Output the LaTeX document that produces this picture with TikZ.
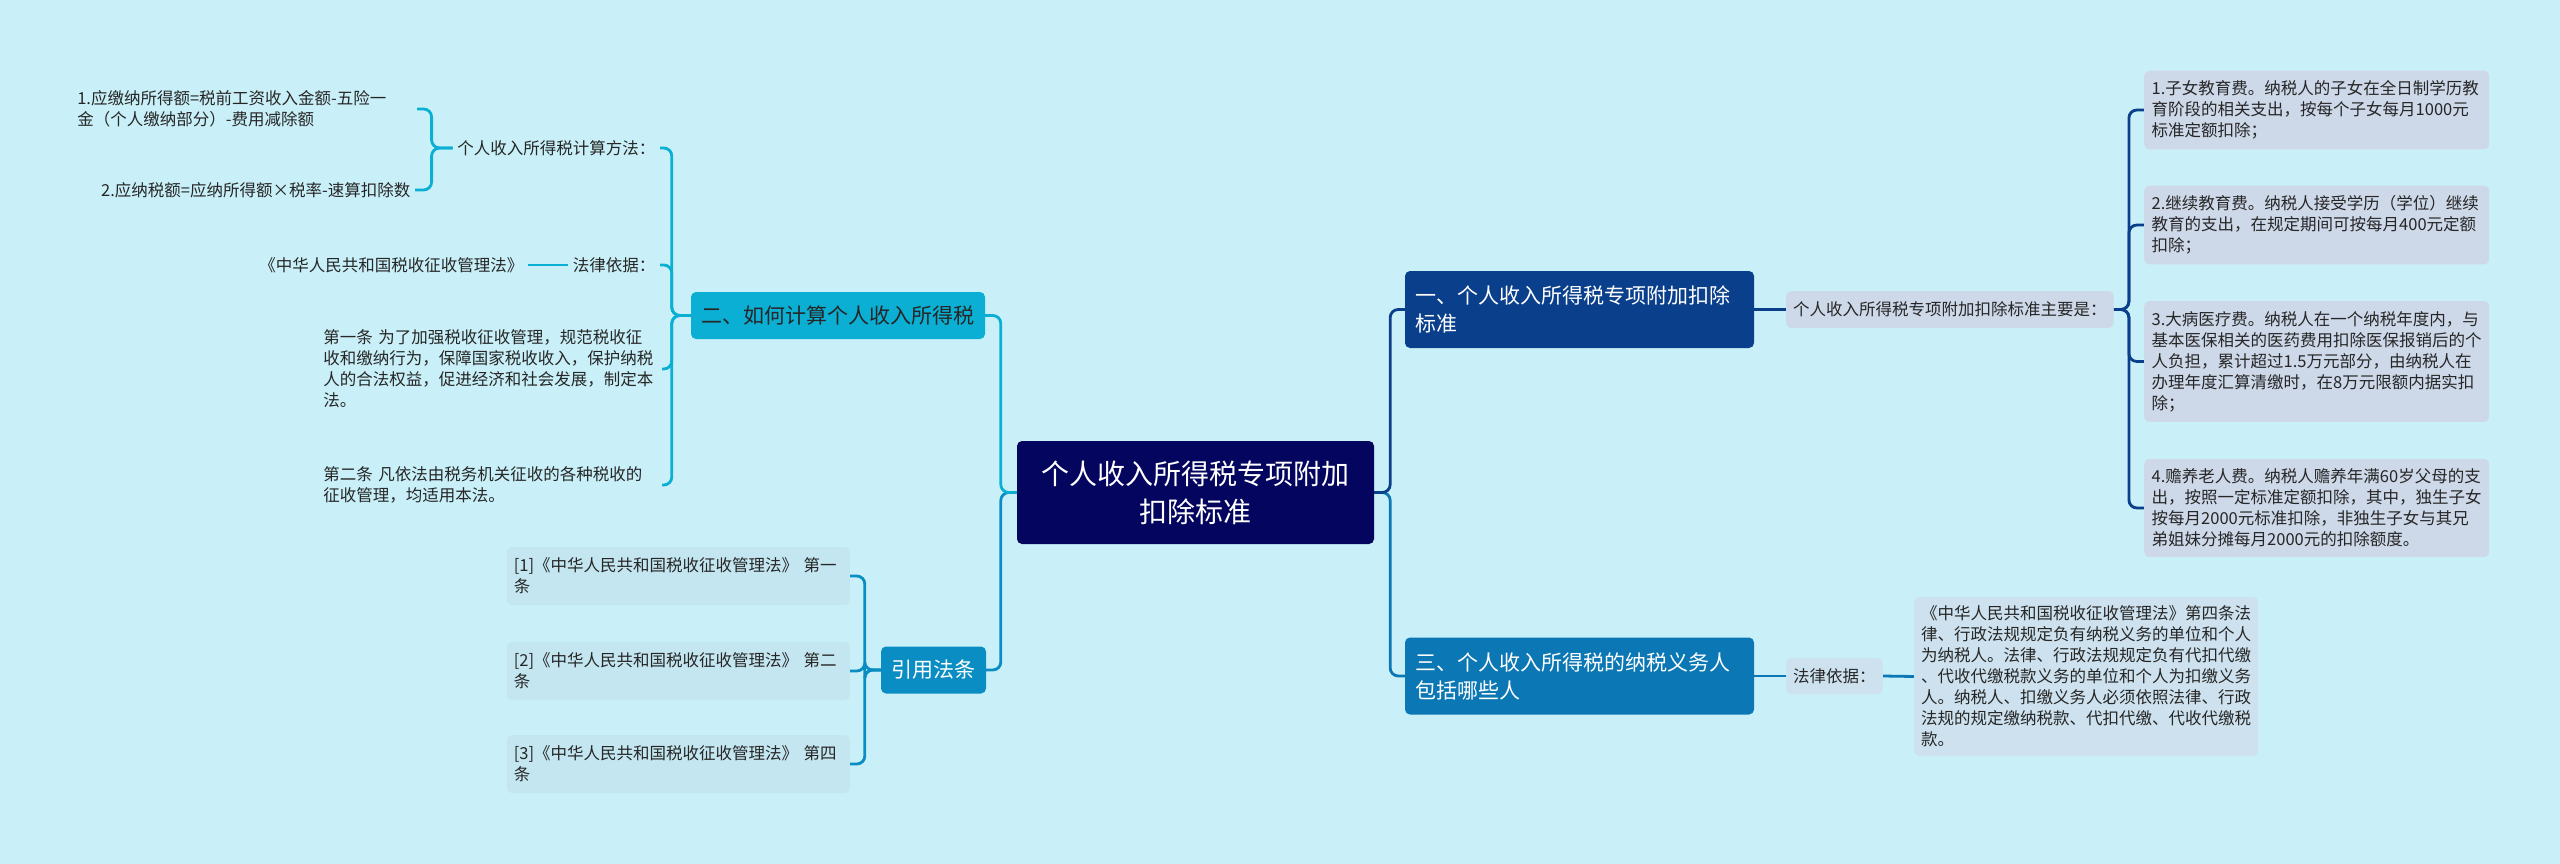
\documentclass[tikz,border=0pt]{standalone}
\usepackage{fontspec}
\setmainfont{Noto Sans CJK SC}
\pgfdeclarelayer{bglayer}
\pgfdeclarelayer{lines}
\pgfsetlayers{bglayer,lines,main}
\definecolor{bgc}{HTML}{C9F0F8}
\definecolor{navy}{HTML}{04055E}
\definecolor{dblue}{HTML}{0A3F8C}
\definecolor{mblue}{HTML}{0B78B5}
\definecolor{cyanb}{HTML}{0AAFD3}
\definecolor{rblue}{HTML}{0A8DC2}
\definecolor{leafg}{HTML}{CDD8E9}
\definecolor{leafb}{HTML}{CDE2EE}
\definecolor{leafc}{HTML}{C4E6F1}
\definecolor{txt}{HTML}{262626}
\begin{document}
\begin{tikzpicture}[x=1pt,y=-1pt,
  every node/.style={font=\fontsize{16.5}{21}\selectfont, text=txt, inner sep=0pt},
  centralbox/.style={fill=navy, rounded corners=5pt, text=white, font=\fontsize{28}{38}\selectfont, align=center, minimum width=357pt, minimum height=103pt},
  mainbox/.style={rounded corners=5pt, text=white, font=\fontsize{21}{28}\selectfont, align=left, text width=329pt, inner xsep=10pt, minimum height=77pt},
  subbox/.style={rounded corners=5pt, font=\fontsize{21}{28}\selectfont, inner xsep=10.5pt, minimum height=47pt},
  leafbox/.style={rounded corners=5pt, align=left, inner xsep=7.5pt, inner ysep=10pt},
  plain/.style={inner xsep=4.5pt, inner ysep=3pt, align=left},
  conn/.style={line width=2.8pt, rounded corners=8pt},
]
\begin{pgfonlayer}{bglayer}
\fill[bgc] (0,0) rectangle (2560,864);
\end{pgfonlayer}

% central and main branches
\node[centralbox] (c) at (1195.5,492.5) {个人收入所得税专项附加\\扣除标准};
\node[mainbox, fill=dblue] (n1) at (1579.5,309.5) {一、个人收入所得税专项附加扣除\\标准};
\node[mainbox, fill=mblue] (n3) at (1579.5,676) {三、个人收入所得税的纳税义务人\\包括哪些人};
\node[subbox, fill=cyanb] (n2) at (838,315.5) {二、如何计算个人收入所得税};
\node[subbox, fill=rblue, text=white] (n4) at (933.5,670) {引用法条};

% right side, branch one
\node[leafbox, fill=leafg, anchor=west, inner xsep=7pt, inner ysep=0pt, minimum height=37pt] (k) at (1786,309.5) {个人收入所得税专项附加扣除标准主要是：};
\node[leafbox, fill=leafg, anchor=west, text width=330pt] (r1) at (2144,110) {1.子女教育费。纳税人的子女在全日制学历教\\育阶段的相关支出，按每个子女每月1000元\\标准定额扣除；};
\node[leafbox, fill=leafg, anchor=west, text width=330pt] (r2) at (2144,225) {2.继续教育费。纳税人接受学历（学位）继续\\教育的支出，在规定期间可按每月400元定额\\扣除；};
\node[leafbox, fill=leafg, anchor=west, text width=330pt] (r3) at (2144,361.5) {3.大病医疗费。纳税人在一个纳税年度内，与\\基本医保相关的医药费用扣除医保报销后的个\\人负担，累计超过1.5万元部分，由纳税人在\\办理年度汇算清缴时，在8万元限额内据实扣\\除；};
\node[leafbox, fill=leafg, anchor=west, text width=330pt] (r4) at (2144,508) {4.赡养老人费。纳税人赡养年满60岁父母的支\\出，按照一定标准定额扣除，其中，独生子女\\按每月2000元标准扣除，非独生子女与其兄\\弟姐妹分摊每月2000元的扣除额度。};

% right side, branch three
\node[leafbox, fill=leafb, anchor=west, inner xsep=7pt, inner ysep=0pt, minimum height=36pt] (lb) at (1786,676) {法律依据：};
\node[leafbox, fill=leafb, anchor=west, text width=330pt, inner xsep=7pt, inner ysep=9pt] (lt) at (1914,676.5) {《中华人民共和国税收征收管理法》第四条法\\律、行政法规规定负有纳税义务的单位和个人\\为纳税人。法律、行政法规规定负有代扣代缴\\、代收代缴税款义务的单位和个人为扣缴义务\\人。纳税人、扣缴义务人必须依照法律、行政\\法规的规定缴纳税款、代扣代缴、代收代缴税\\款。};

% left side, branch two
\node[plain, anchor=east] (calc) at (660,148) {个人收入所得税计算方法：};
\node[plain, anchor=east, text width=335pt] (f1) at (417,109) {1.应缴纳所得额=税前工资收入金额-五险一\\金（个人缴纳部分）-费用减除额};
\node[plain, anchor=east] (f2) at (415,190) {2.应纳税额=应纳所得额×税率-速算扣除数};
\node[plain, anchor=east] (lbasis) at (660,265) {法律依据：};
\node[plain, anchor=east] (lawbook) at (528,265) {《中华人民共和国税收征收管理法》};
\node[plain, anchor=east, text width=334pt] (art1) at (662,369) {第一条 为了加强税收征收管理，规范税收征\\收和缴纳行为，保障国家税收收入，保护纳税\\人的合法权益，促进经济和社会发展，制定本\\法。};
\node[plain, anchor=east, text width=334pt] (art2) at (662,485) {第二条 凡依法由税务机关征收的各种税收的\\征收管理，均适用本法。};

% left side, references
\node[leafbox, fill=leafc, anchor=east, text width=329pt, inner xsep=7pt, inner ysep=0pt, minimum height=58pt] (ref1) at (850,576) {[1]《中华人民共和国税收征收管理法》 第一\\条};
\node[leafbox, fill=leafc, anchor=east, text width=329pt, inner xsep=7pt, inner ysep=0pt, minimum height=58pt] (ref2) at (850,671) {[2]《中华人民共和国税收征收管理法》 第二\\条};
\node[leafbox, fill=leafc, anchor=east, text width=329pt, inner xsep=7pt, inner ysep=0pt, minimum height=58pt] (ref3) at (850,764) {[3]《中华人民共和国税收征收管理法》 第四\\条};

\begin{pgfonlayer}{lines}
\draw[conn, rblue] (c.west) -- ++(-16,0) |- (n4.east);
\draw[conn, cyanb] (c.west) -- ++(-16,0) |- (n2.east);
\draw[conn, mblue] (c.east) -- ++(16,0) |- (n3.west);
\draw[conn, dblue] (c.east) -- ++(16,0) |- (n1.west);
\draw[conn, dblue] (n1.east) -- (k.west);
\foreach \r in {r1,r2,r3,r4} {\draw[conn, dblue] (k.east) -- ++(15,0) |- (\r.west);}
\draw[conn, mblue] (n3.east) -- (lb.west);
\draw[conn, mblue] (lb.east) -- (lt.west);
\foreach \r in {calc,lbasis,art1,art2} {\draw[conn, cyanb] (n2.west) -- ++(-19,0) |- (\r.east);}
\foreach \r in {f1,f2} {\draw[conn, cyanb] (calc.west) -- ++(-21,0) |- (\r.east);}
\draw[conn, cyanb] (lbasis.west) -- (lawbook.east);
\foreach \r in {ref1,ref2,ref3} {\draw[conn, rblue] (n4.west) -- ++(-16,0) |- (\r.east);}
\end{pgfonlayer}
\end{tikzpicture}
\end{document}
